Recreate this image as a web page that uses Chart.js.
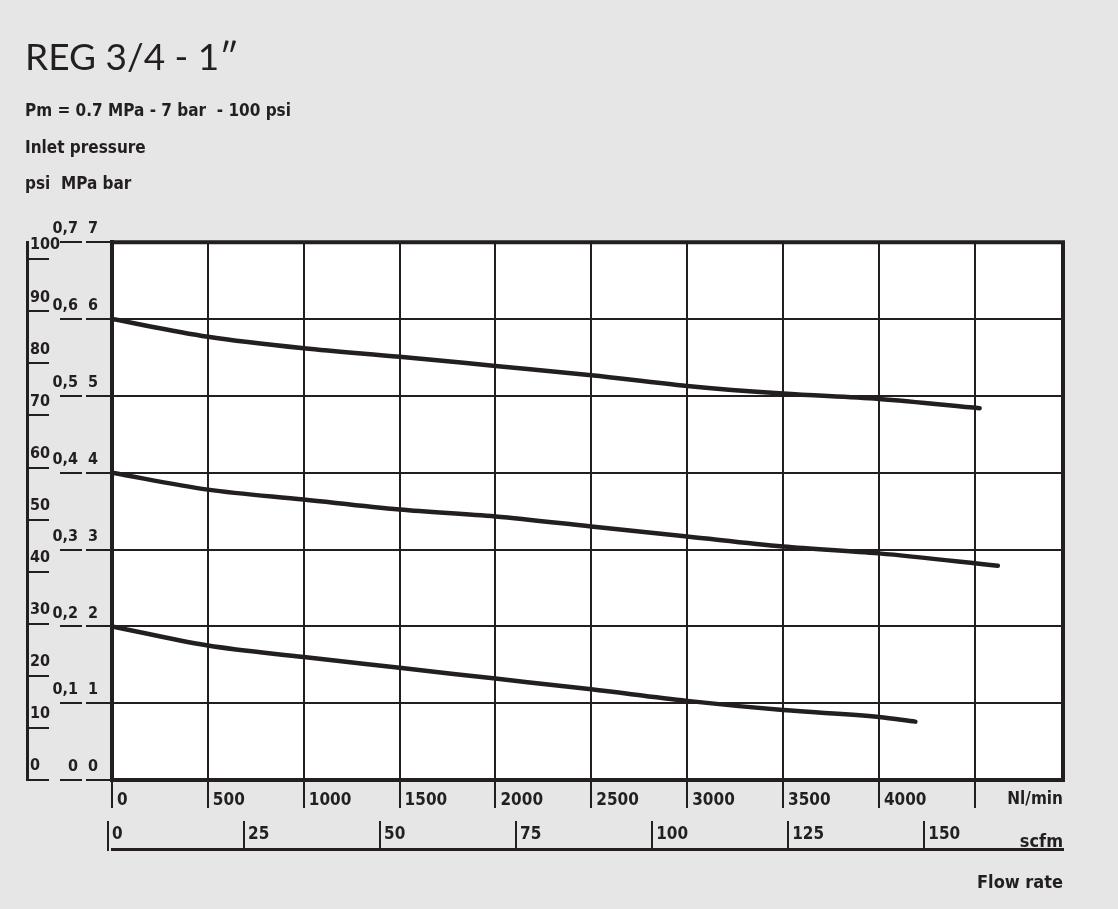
<!DOCTYPE html>
<html>
<head>
<meta charset="utf-8">
<script src="https://cdn.jsdelivr.net/npm/chart.js@4"></script>
<style>
  html, body { margin: 0; padding: 0; background: #e6e6e6; }
  canvas { display: block; }
</style>
</head>
<body>
<canvas id="grafica_reg" width="1118" height="909"></canvas>
<script>
// flow rate in Nl/min, outlet pressure in bar
const flujo_alta = [0, 500, 1000, 1500, 2000, 2500, 3000, 3500, 4000, 4525];
const presion_alta = [6.0, 5.77, 5.62, 5.51, 5.39, 5.27, 5.13, 5.03, 4.96, 4.84];
const flujo_media = [0, 500, 1000, 1500, 2000, 2500, 3000, 3500, 4000, 4620];
const presion_media = [4.0, 3.78, 3.65, 3.52, 3.43, 3.30, 3.17, 3.04, 2.95, 2.79];
const flujo_baja = [0, 500, 1000, 1500, 2000, 2500, 3000, 3500, 4000, 4190];
const presion_baja = [2.0, 1.75, 1.60, 1.46, 1.32, 1.18, 1.03, 0.91, 0.82, 0.76];

const ticks_bar = [0, 1, 2, 3, 4, 5, 6, 7];
const ticks_mpa = [0, 0.1, 0.2, 0.3, 0.4, 0.5, 0.6, 0.7];
const ticks_psi = [0, 10, 20, 30, 40, 50, 60, 70, 80, 90, 100];
const ticks_nlmin = [0, 500, 1000, 1500, 2000, 2500, 3000, 3500, 4000, 4500];
const etiquetas_nlmin = ['0', '500', '1000', '1500', '2000', '2500', '3000', '3500', '4000', ''];
const ticks_scfm = [0, 25, 50, 75, 100, 125, 150];

const negro = '#231f20';
const fuente = "'Liberation Sans Narrow', 'DejaVu Sans Condensed', sans-serif";

const puntos = (xs, ys) => xs.map((x, i) => ({ x: x, y: ys[i] }));
const fijarTicks = lista => scale => { scale.ticks = lista.map(v => ({ value: v })); };
const curva = (xs, ys) => ({
  data: puntos(xs, ys),
  showLine: true,
  borderColor: negro,
  borderWidth: 4.5,
  borderCapStyle: 'round',
  pointRadius: 0,
  cubicInterpolationMode: 'monotone'
});

const fondoBlanco = {
  id: 'fondoBlanco',
  beforeDraw(chart) {
    const a = chart.chartArea, ctx = chart.ctx;
    ctx.save();
    ctx.fillStyle = '#ffffff';
    ctx.fillRect(a.left, a.top, a.right - a.left, a.bottom - a.top);
    ctx.restore();
  },
  beforeDatasetsDraw(chart) {
    const a = chart.chartArea, ctx = chart.ctx;
    ctx.save();
    ctx.strokeStyle = negro;
    ctx.lineWidth = 4;
    ctx.strokeRect(a.left, a.top, a.right - a.left, a.bottom - a.top);
    ctx.restore();
  }
};

const ctx = document.getElementById('grafica_reg').getContext('2d');
new Chart(ctx, {
  type: 'scatter',
  data: {
    datasets: [
      curva(flujo_alta, presion_alta),
      curva(flujo_media, presion_media),
      curva(flujo_baja, presion_baja)
    ]
  },
  plugins: [fondoBlanco],
  options: {
    responsive: false,
    devicePixelRatio: 1,
    animation: false,
    layout: { padding: { left: 25, right: 55, top: 0, bottom: 0 } },
    plugins: {
      legend: { display: false },
      tooltip: { enabled: false },
      title: {
        display: true,
        text: 'REG 3/4 - 1\u2033',
        align: 'start',
        color: negro,
        font: { family: "Lato, 'Open Sans', sans-serif", size: 37, weight: 'normal', lineHeight: 1.2 },
        padding: { top: 36, bottom: 0 }
      },
      subtitle: {
        display: true,
        text: ['Pm = 0.7 MPa - 7 bar  - 100 psi', 'Inlet pressure', 'psi  MPa bar'],
        align: 'start',
        color: negro,
        font: { family: fuente, size: 17, weight: 'bold', lineHeight: '36.5px' },
        padding: { top: 13.35, bottom: 39 }
      }
    },
    scales: {
      x: {
        type: 'linear',
        position: 'bottom',
        min: 0,
        max: 4960,
        weight: 0,
        afterBuildTicks: fijarTicks(ticks_nlmin),
        afterFit: s => { s.height = 69; },
        border: { display: true, color: negro, width: 4 },
        grid: { color: negro, lineWidth: 2, drawTicks: true, tickLength: 28, tickWidth: 2 },
        ticks: {
          autoSkip: false, maxRotation: 0, align: 'start', labelOffset: 5, padding: -18,
          color: negro, font: { family: fuente, size: 17, weight: 'bold' },
          callback: (v, i) => etiquetas_nlmin[i]
        },
        title: {
          display: true, text: 'Nl/min', align: 'end', color: negro,
          font: { family: fuente, size: 17, weight: 'bold', lineHeight: 1.2 },
          padding: { top: 0, bottom: 38.8 }
        }
      },
      scfm: {
        type: 'linear',
        position: 'bottom',
        min: 0.74,
        max: 175.5,
        weight: 1,
        afterBuildTicks: fijarTicks(ticks_scfm),
        afterFit: s => { s.height = 60; },
        border: { display: true, color: negro, width: 3 },
        grid: { drawOnChartArea: false, color: negro, lineWidth: 2, drawTicks: true, tickLength: -28, tickWidth: 2 },
        ticks: {
          autoSkip: false, maxRotation: 0, align: 'start', labelOffset: 4, padding: 4, mirror: true,
          color: negro, font: { family: fuente, size: 17, weight: 'bold' },
          callback: v => String(v)
        },
        title: {
          display: true, text: ['scfm', 'Flow rate'], align: 'end', color: negro,
          font: { family: fuente, size: 18, weight: 'bold', lineHeight: '41px' },
          padding: { top: 0, bottom: 5.5 }
        }
      },
      y: {
        type: 'linear',
        position: 'left',
        min: 0,
        max: 7,
        weight: 0,
        afterBuildTicks: fijarTicks(ticks_bar),
        afterFit: s => { s.width = 30; },
        border: { display: true, color: negro, width: 4 },
        grid: { color: negro, lineWidth: 2, drawTicks: true, tickLength: 26, tickWidth: 2 },
        ticks: {
          autoSkip: false, padding: -12, labelOffset: -13,
          color: negro, font: { family: fuente, size: 16, weight: 'bold' },
          callback: v => String(v)
        }
      },
      mpa: {
        type: 'linear',
        position: 'left',
        min: 0,
        max: 0.7,
        weight: 1,
        afterBuildTicks: fijarTicks(ticks_mpa),
        afterFit: s => { s.width = 55; },
        border: { display: false },
        grid: { drawOnChartArea: false, color: negro, lineWidth: 2, drawTicks: true, tickLength: 22, tickWidth: 2 },
        ticks: {
          autoSkip: false, padding: -18, labelOffset: -13,
          color: negro, font: { family: fuente, size: 16, weight: 'bold' },
          callback: v => v === 0 ? '0' : v.toFixed(1).replace('.', ',')
        }
      },
      psi: {
        type: 'linear',
        position: 'left',
        min: 0,
        max: 103.27,
        weight: 2,
        afterBuildTicks: fijarTicks(ticks_psi),
        afterFit: s => { s.width = 2; },
        border: { display: true, color: negro, width: 3 },
        grid: { drawOnChartArea: false, color: negro, lineWidth: 2, drawTicks: true, tickLength: -22, tickWidth: 2 },
        ticks: {
          autoSkip: false, mirror: true, padding: 3, labelOffset: -14,
          color: negro, font: { family: fuente, size: 16, weight: 'bold' },
          callback: v => String(v)
        }
      }
    }
  }
});
</script>
</body>
</html>
